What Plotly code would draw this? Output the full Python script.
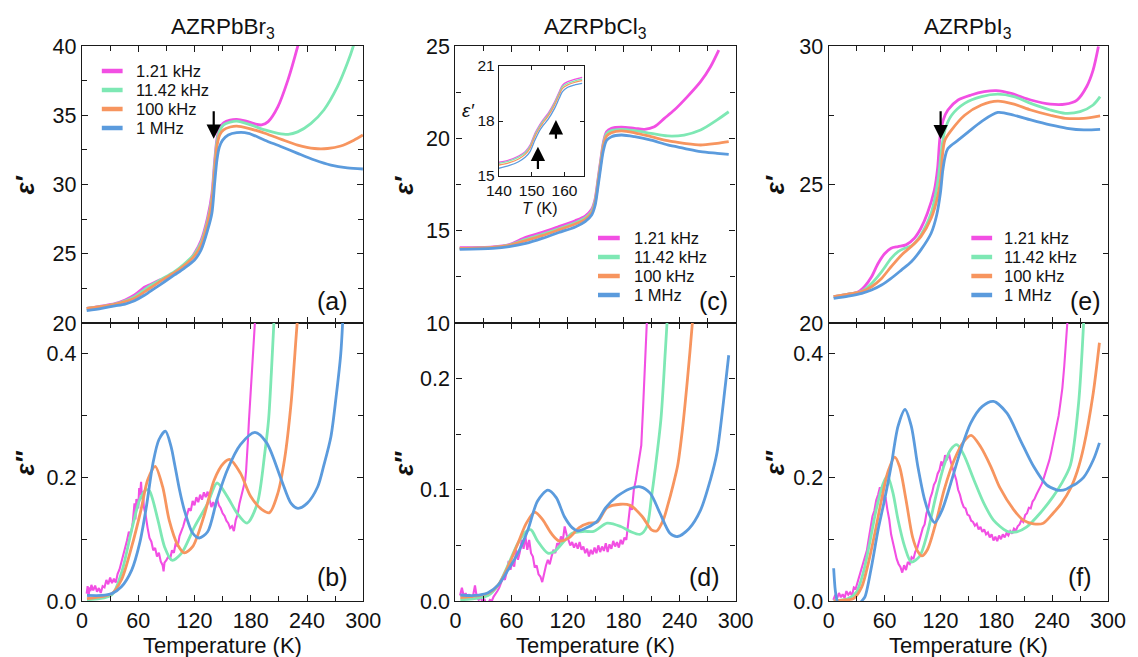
import plotly.graph_objects as go

# ---------------------------------------------------------------- data
freq_labels = ["1.21 kHz", "11.42 kHz", "100 kHz", "1 MHz"]
colors = ["#F24FE3", "#7EE8B4", "#F7955F", "#5B9BDD"]
compounds = ["AZRPbBr<sub>3</sub>", "AZRPbCl<sub>3</sub>", "AZRPbI<sub>3</sub>"]
panel_tags = ["(a)", "(b)", "(c)", "(d)", "(e)", "(f)"]
x_ticks = [0, 60, 120, 180, 240, 300]

# ---- AZRPbBr3, real part
br_re_T_121k = [5, 35, 46, 56, 67, 74, 81, 91.5, 102, 113, 120, 127, 134, 138.5, 141.5, 144, 147, 151, 158, 165, 174, 184.5, 191.5, 198.6, 209, 219.7, 230, 235]
br_re_121k = [21.06, 21.4, 21.66, 22.02, 22.6, 22.81, 23.05, 23.3, 23.78, 24.38, 25.03, 25.95, 27.63, 29.3, 31.7, 33.3, 34.1, 34.45, 34.65, 34.7, 34.6, 34.37, 34.3, 34.54, 35.62, 37.55, 39.95, 41.3]
br_re_T_1142k = [5, 35, 56, 67, 74, 84.5, 98.6, 109, 120, 127, 134, 138.5, 141.5, 144, 147, 151, 158, 165, 180, 195, 209, 220, 230, 244, 258, 272.5, 283, 289.4, 295]
br_re_1142k = [21.06, 21.37, 21.9, 22.43, 22.74, 23.15, 23.7, 24.26, 24.98, 25.8, 27.4, 29.0, 31.4, 33.1, 33.9, 34.3, 34.5, 34.58, 34.3, 33.94, 33.7, 33.62, 33.8, 34.4, 35.38, 37.06, 38.75, 40.0, 41.5]
br_re_T_100k = [5, 35, 56, 67, 77.5, 88, 98.6, 109, 120, 127, 134, 138.5, 141.5, 144, 147, 151, 158, 165, 177.5, 195, 212.7, 230, 248, 262, 276, 290, 299.6]
br_re_100k = [21.06, 21.35, 21.78, 22.26, 22.74, 23.2, 23.63, 24.14, 24.84, 25.63, 27.2, 28.8, 31.0, 32.8, 33.6, 33.95, 34.15, 34.22, 34.06, 33.7, 33.26, 32.85, 32.6, 32.6, 32.78, 33.2, 33.57]
br_re_T_1M = [5, 21, 35, 46, 56, 67, 77.5, 88, 98.6, 109, 120, 127, 134, 138.5, 141.5, 144, 146.5, 150, 156, 165, 177.5, 195, 212.7, 230, 248, 265.5, 283, 299.6]
br_re_1M = [20.89, 21.06, 21.23, 21.37, 21.61, 22.02, 22.5, 22.98, 23.47, 23.95, 24.55, 25.27, 26.7, 27.9, 30.1, 31.8, 32.7, 33.2, 33.57, 33.74, 33.7, 33.2, 32.73, 32.25, 31.77, 31.4, 31.2, 31.12]

# ---- AZRPbBr3, imaginary part
br_im_T_121k = [5, 6, 7, 8, 9, 10, 12, 14, 16, 18, 20, 22, 24, 26, 28, 30, 32, 34, 36, 38, 40, 42, 44, 46, 48, 50, 52, 54, 56, 57, 58, 60, 61, 62, 63, 64, 65, 66, 68, 70, 72, 74, 76, 78, 80, 82, 84, 86, 87, 88, 90, 92, 94, 96, 98, 100, 102, 104, 106, 108, 110, 112, 114, 116, 118, 120, 122, 124, 126, 128, 130, 132, 134, 136, 138, 140, 142, 144, 146, 148, 150, 152, 154, 156, 158, 160, 162, 164, 166, 168, 170, 172, 174, 175, 176, 177, 178, 180, 182, 184, 186]
br_im_121k = [0.012, 0.024, 0.006, 0.022, 0.016, 0.026, 0.017, 0.025, 0.015, 0.021, 0.013, 0.024, 0.022, 0.034, 0.027, 0.038, 0.029, 0.036, 0.030, 0.044, 0.051, 0.062, 0.072, 0.085, 0.098, 0.112, 0.108, 0.125, 0.158, 0.132, 0.165, 0.150, 0.183, 0.172, 0.193, 0.165, 0.178, 0.152, 0.138, 0.118, 0.102, 0.096, 0.082, 0.086, 0.072, 0.078, 0.064, 0.058, 0.048, 0.062, 0.066, 0.072, 0.068, 0.082, 0.078, 0.094, 0.088, 0.105, 0.112, 0.121, 0.132, 0.139, 0.150, 0.146, 0.162, 0.155, 0.168, 0.160, 0.172, 0.164, 0.176, 0.168, 0.177, 0.162, 0.152, 0.160, 0.151, 0.166, 0.155, 0.150, 0.142, 0.138, 0.130, 0.126, 0.118, 0.121, 0.113, 0.131, 0.140, 0.158, 0.170, 0.186, 0.195, 0.21, 0.23, 0.26, 0.29, 0.34, 0.39, 0.44, 0.49]
br_im_T_1142k = [5.3, 31.7, 42, 53, 61.6, 68.5, 72, 81, 88, 96, 106, 120, 134, 144, 155, 165.5, 176, 187, 195, 199, 202, 205]
br_im_1142k = [0.002, 0.01, 0.045, 0.115, 0.164, 0.18, 0.178, 0.131, 0.088, 0.066, 0.077, 0.12, 0.158, 0.191, 0.169, 0.142, 0.126, 0.158, 0.24, 0.293, 0.37, 0.46]
br_im_T_100k = [5.3, 31.7, 42, 53, 63, 70, 78, 86, 93, 102, 109, 118, 130, 141, 151, 158, 169, 180, 192, 200, 209, 216, 223, 228.5, 231]
br_im_100k = [0.004, 0.012, 0.034, 0.088, 0.148, 0.196, 0.218, 0.185, 0.131, 0.091, 0.078, 0.088, 0.137, 0.196, 0.223, 0.229, 0.207, 0.169, 0.148, 0.143, 0.175, 0.229, 0.32, 0.43, 0.48]
br_im_T_1M = [5.3, 21, 31.7, 42, 53, 61.6, 68.7, 75.7, 82, 89, 95, 98.6, 104, 109, 118, 125, 134, 144, 155, 169, 184.5, 197, 212.7, 223, 230.3, 240, 251.4, 258, 265.5, 271, 276, 278]
br_im_1M = [0.009, 0.009, 0.012, 0.023, 0.05, 0.094, 0.153, 0.223, 0.261, 0.275, 0.25, 0.223, 0.18, 0.148, 0.11, 0.102, 0.112, 0.164, 0.212, 0.253, 0.273, 0.256, 0.196, 0.158, 0.150, 0.158, 0.185, 0.22, 0.266, 0.33, 0.40, 0.45]

# ---- AZRPbCl3, real part
cl_re_T_121k = [4.6, 40, 57.6, 75.3, 92.9, 110.6, 128.3, 138.9, 145.9, 149.5, 153, 155.8, 158.3, 161.8, 167.1, 177.7, 191.9, 202.5, 213, 223.7, 234.3, 248.4, 262.5, 273.1, 282]
cl_re_121k = [14.08, 14.12, 14.25, 14.64, 14.91, 15.22, 15.54, 15.79, 16.16, 16.7, 17.9, 18.9, 19.75, 20.35, 20.54, 20.6, 20.54, 20.49, 20.63, 21.08, 21.53, 22.26, 23.07, 23.88, 24.78]
cl_re_T = [4.6, 40, 57.6, 75.3, 92.9, 110.6, 128.3, 138.9, 145.9, 149.5, 153, 155.8, 158.3, 161.8, 167.1, 177.7, 191.9, 209.5, 227.2, 244.9, 262.5, 280.2, 292.6]
cl_re_1142k = [14.04, 14.1, 14.22, 14.53, 14.8, 15.1, 15.43, 15.69, 16.05, 16.6, 17.8, 18.8, 19.65, 20.25, 20.42, 20.49, 20.42, 20.27, 20.13, 20.18, 20.45, 21.0, 21.44]
cl_re_100k = [14.04, 14.1, 14.2, 14.46, 14.73, 15.04, 15.36, 15.61, 15.97, 16.5, 17.7, 18.7, 19.55, 20.12, 20.3, 20.4, 20.3, 20.09, 19.87, 19.73, 19.64, 19.73, 19.82]
cl_re_1M = [13.99, 14.04, 14.13, 14.31, 14.58, 14.9, 15.2, 15.49, 15.85, 16.35, 17.5, 18.5, 19.3, 19.88, 20.09, 20.18, 20.09, 19.9, 19.64, 19.46, 19.28, 19.19, 19.13]

# ---- AZRPbCl3, real part around the transition (inset)
inset_T = [140, 143, 146, 148, 149.5, 151, 152.4, 153.4, 155, 157, 158.4, 159.4, 161, 163, 165.4]
inset_121k = [15.75, 15.87, 16.09, 16.33, 16.69, 17.33, 17.78, 18.05, 18.42, 19.05, 19.6, 19.96, 20.15, 20.27, 20.38]
inset_1142k = [15.69, 15.81, 16.03, 16.27, 16.62, 17.26, 17.71, 17.98, 18.35, 18.98, 19.52, 19.88, 20.06, 20.18, 20.28]
inset_100k = [15.6, 15.72, 15.93, 16.18, 16.52, 17.16, 17.62, 17.89, 18.26, 18.88, 19.42, 19.78, 19.97, 20.1, 20.2]
inset_1M = [15.42, 15.56, 15.78, 16.02, 16.33, 16.96, 17.47, 17.73, 18.09, 18.69, 19.24, 19.6, 19.84, 19.96, 20.05]

# ---- AZRPbCl3, imaginary part
cl_im_T_121k = [5, 7, 9, 11, 13, 15, 17, 19, 21, 23, 25, 27, 29, 31, 33, 35, 37, 39, 41, 43, 45, 47, 49, 51, 53, 55, 57, 59, 61, 63, 65, 67, 69, 71, 73, 75, 77, 79, 81, 83, 85, 87, 89, 91, 93, 95, 97, 99, 101, 103, 105, 107, 109, 111, 113, 115, 117, 119, 121, 123, 125, 127, 129, 131, 133, 135, 137, 139, 141, 143, 145, 147, 149, 151, 153, 155, 157, 159, 161, 163, 165, 167, 169, 171, 173, 175, 177, 179, 181, 183, 185, 187, 189, 191, 193, 195, 197, 199, 201, 203, 205, 207]
cl_im_121k = [0.005, 0.012, 0.004, 0.007, 0.003, 0.006, 0.002, 0.005, 0.014, 0.003, 0.001, 0.004, -0.001, 0.002, -0.003, -0.002, 0.001, 0.000, 0.004, 0.006, 0.009, 0.012, 0.016, 0.021, 0.019, 0.026, 0.036, 0.028, 0.035, 0.031, 0.046, 0.037, 0.044, 0.055, 0.047, 0.058, 0.046, 0.055, 0.043, 0.040, 0.030, 0.032, 0.024, 0.022, 0.017, 0.025, 0.032, 0.037, 0.033, 0.040, 0.046, 0.043, 0.052, 0.050, 0.058, 0.054, 0.067, 0.060, 0.055, 0.050, 0.053, 0.048, 0.052, 0.047, 0.053, 0.046, 0.049, 0.043, 0.047, 0.040, 0.046, 0.042, 0.048, 0.043, 0.050, 0.044, 0.049, 0.045, 0.052, 0.044, 0.051, 0.047, 0.054, 0.049, 0.053, 0.048, 0.055, 0.051, 0.057, 0.055, 0.070, 0.085, 0.082, 0.100, 0.108, 0.120, 0.128, 0.140, 0.175, 0.210, 0.250, 0.290]
cl_im_T_1142k = [5.3, 35, 46, 56.5, 67, 76, 81, 88, 99, 106, 116.6, 125, 138, 148, 162.5, 177, 187, 198, 205, 210, 213.8, 220, 224.7, 228]
cl_im_1142k = [0.001, 0.005, 0.0145, 0.0325, 0.052, 0.0626, 0.064, 0.054, 0.043, 0.0445, 0.054, 0.061, 0.0626, 0.0626, 0.070, 0.067, 0.0626, 0.060, 0.067, 0.094, 0.118, 0.163, 0.224, 0.27]
cl_im_T_100k = [5.3, 35, 46, 56.5, 67, 76, 85, 93.6, 102.5, 111, 122, 132.5, 143, 152, 162.5, 176.7, 187, 200, 210, 215.5, 222.6, 227, 233, 238, 243, 248.5, 253.7, 256]
cl_im_100k = [0.003, 0.007, 0.0145, 0.031, 0.052, 0.07, 0.08, 0.073, 0.061, 0.054, 0.057, 0.066, 0.070, 0.071, 0.084, 0.087, 0.086, 0.076, 0.064, 0.063, 0.073, 0.085, 0.104, 0.122, 0.154, 0.2, 0.25, 0.28]
cl_im_T_1M = [5.3, 21, 35, 46, 56.5, 67, 77.7, 88, 99, 108, 116.6, 125, 131, 141, 152, 161, 173, 187, 198, 208.5, 219, 229.7, 237.8, 250, 262.6, 273, 280, 289, 292.6]
cl_im_1M = [0.0054, 0.005, 0.0075, 0.0145, 0.028, 0.043, 0.064, 0.09, 0.0997, 0.093, 0.076, 0.066, 0.063, 0.066, 0.072, 0.084, 0.094, 0.101, 0.1027, 0.097, 0.079, 0.061, 0.058, 0.065, 0.082, 0.109, 0.133, 0.194, 0.221]

# ---- AZRPbI3, real part
i_re_T_121k = [5.3, 21, 31.9, 39, 46, 53, 60, 67, 74.5, 83, 92, 99, 106, 113.5, 117, 119.5, 123, 128, 139, 153, 167, 180, 196, 217, 238, 254, 266.7, 277, 284, 289.7]
i_re_121k = [20.95, 21.04, 21.13, 21.34, 21.67, 22.15, 22.5, 22.7, 22.76, 22.82, 23.06, 23.42, 23.96, 24.8, 25.6, 26.7, 27.33, 27.69, 28.05, 28.23, 28.35, 28.39, 28.29, 28.05, 27.9, 27.9, 28.05, 28.53, 29.13, 29.98]
i_re_T_1142k = [5.3, 21, 35.5, 46, 56.7, 67, 74.5, 81.6, 88.7, 99, 110, 115, 118, 121, 124.8, 132, 146, 164, 181.6, 199, 217, 238, 254, 270, 284, 291.5]
i_re_1142k = [20.95, 21.04, 21.15, 21.43, 21.85, 22.33, 22.58, 22.7, 22.78, 23.18, 23.96, 24.68, 25.3, 26.2, 26.97, 27.5, 27.93, 28.17, 28.26, 28.17, 27.93, 27.69, 27.57, 27.63, 27.87, 28.17]
i_re_T_100k = [5.3, 21, 35.5, 46, 56.7, 67, 78, 88.7, 99, 110, 117, 120.6, 122, 124.8, 132, 146, 164, 181.6, 199, 217, 238, 254, 274, 291.5]
i_re_100k = [20.95, 21.04, 21.13, 21.31, 21.61, 22.03, 22.45, 22.76, 23.12, 23.78, 24.56, 25.3, 26.0, 26.6, 26.97, 27.5, 27.87, 28.01, 27.9, 27.69, 27.5, 27.39, 27.39, 27.48]
i_re_T_1M = [5.3, 21, 35.5, 46, 56.7, 67, 78, 88.7, 99, 110, 116, 120, 122.5, 125, 128, 139, 150, 164, 181.6, 199, 217, 238, 256, 274, 291.5]
i_re_1M = [20.89, 20.97, 21.07, 21.19, 21.37, 21.61, 21.91, 22.21, 22.64, 23.24, 23.9, 24.7, 25.5, 26.0, 26.3, 26.6, 26.9, 27.27, 27.6, 27.5, 27.33, 27.15, 27.03, 26.97, 26.99]

# ---- AZRPbI3, imaginary part
i_im_T_121k = [5, 7, 9, 11, 13, 15, 17, 19, 21, 23, 25, 27, 29, 31, 33, 35, 37, 39, 41, 43, 45, 47, 49, 51, 53, 55, 57, 58, 59, 61, 63, 65, 67, 69, 71, 73, 75, 77, 79, 81, 83, 85, 87, 89, 91, 93, 95, 97, 99, 101, 103, 105, 107, 109, 111, 113, 115, 117, 119, 121, 123, 125, 127, 129, 131, 133, 135, 137, 139, 141, 143, 145, 147, 149, 151, 153, 155, 157, 159, 161, 163, 165, 167, 169, 171, 173, 175, 177, 179, 181, 183, 185, 187, 189, 191, 193, 195, 197, 199, 201, 203, 205, 207, 209, 211, 213, 215, 217, 219, 221, 223, 225, 227, 229, 231, 233, 235, 237, 239, 241, 243, 245, 247, 249, 251, 253, 255, 257]
i_im_121k = [0.002, 0.010, 0.004, 0.013, 0.006, 0.011, 0.005, 0.016, 0.010, 0.014, 0.009, 0.022, 0.020, 0.031, 0.038, 0.052, 0.060, 0.074, 0.082, 0.101, 0.118, 0.137, 0.146, 0.163, 0.172, 0.184, 0.176, 0.187, 0.162, 0.168, 0.148, 0.132, 0.108, 0.094, 0.078, 0.068, 0.060, 0.055, 0.046, 0.058, 0.050, 0.063, 0.060, 0.071, 0.068, 0.080, 0.085, 0.096, 0.104, 0.118, 0.124, 0.142, 0.150, 0.166, 0.175, 0.188, 0.194, 0.206, 0.212, 0.226, 0.218, 0.236, 0.228, 0.240, 0.226, 0.216, 0.205, 0.196, 0.180, 0.172, 0.160, 0.152, 0.150, 0.140, 0.138, 0.130, 0.128, 0.122, 0.125, 0.116, 0.120, 0.112, 0.116, 0.108, 0.111, 0.103, 0.108, 0.098, 0.104, 0.097, 0.106, 0.100, 0.108, 0.103, 0.110, 0.106, 0.113, 0.109, 0.117, 0.114, 0.121, 0.124, 0.131, 0.128, 0.139, 0.142, 0.151, 0.150, 0.161, 0.165, 0.172, 0.178, 0.186, 0.190, 0.199, 0.208, 0.216, 0.228, 0.241, 0.256, 0.270, 0.288, 0.300, 0.322, 0.345, 0.380, 0.420, 0.465]
i_im_T_1142k = [5.3, 21, 30, 37, 44, 51, 58.5, 63, 69, 74.5, 81.6, 88.7, 97.5, 106, 115, 124, 131, 137.6, 145, 156, 166.7, 177, 191.5, 202, 212.8, 227, 241, 250, 259.6, 268.4, 273.8]
i_im_1142k = [0.0, 0.004, 0.015, 0.045, 0.094, 0.148, 0.19, 0.203, 0.175, 0.131, 0.088, 0.063, 0.072, 0.11, 0.169, 0.22, 0.245, 0.253, 0.237, 0.196, 0.158, 0.131, 0.113, 0.112, 0.12, 0.142, 0.169, 0.19, 0.22, 0.32, 0.45]
i_im_T_100k = [5.3, 17.7, 26.6, 35.5, 42.5, 49.6, 56.7, 63.8, 71, 76, 83, 90, 95.7, 100, 106, 115, 124, 135, 145, 153, 163, 174, 184, 198.6, 209, 220, 230.5, 241, 250, 260, 267, 274, 284, 290.8]
i_im_100k = [0.0, 0.0016, 0.004, 0.023, 0.061, 0.11, 0.164, 0.21, 0.233, 0.218, 0.164, 0.104, 0.08, 0.073, 0.083, 0.126, 0.18, 0.229, 0.258, 0.268, 0.25, 0.218, 0.183, 0.148, 0.131, 0.125, 0.126, 0.142, 0.158, 0.183, 0.21, 0.25, 0.335, 0.418]
i_im_T_1M = [5.3, 7, 9, 12, 20, 30, 35.5, 39, 46, 53, 60, 67, 74.5, 82, 88.7, 95.7, 103, 110, 114, 122, 131, 142, 152.5, 165, 177, 191.5, 205.7, 220, 234, 244.7, 249, 255, 259.6, 266, 273.8, 284.4, 290.8]
i_im_1M = [0.053, 0.018, 0.0, -0.01, -0.02, -0.01, 0.0, 0.007, 0.056, 0.115, 0.164, 0.218, 0.283, 0.31, 0.283, 0.218, 0.164, 0.134, 0.127, 0.148, 0.19, 0.245, 0.288, 0.315, 0.323, 0.304, 0.261, 0.218, 0.188, 0.18, 0.179, 0.181, 0.185, 0.19, 0.2, 0.229, 0.256]

# ---------------------------------------------------------------- layout helpers
W, H = 1138, 657
ML, MR, MT, MB = 82, 20, 46, 56
FONT = "Liberation Sans, Arial, Helvetica, sans-serif"
INK = "#1a1a1a"


def fx(p):
    return (p - ML) / (W - ML - MR)


def fy(p):
    return (H - MB - p) / (H - MT - MB)


col_dom = [[fx(82), fx(366)], [fx(459), fx(742)], [fx(836), fx(1118)]]
split = fy(323)
top_dom, bot_dom = [split, 1.0], [0.0, split]

fig = go.Figure()

panels = [
    # (axis index, T lists, value lists, first series is the noisy low-frequency one)
    (1, [br_re_T_121k, br_re_T_1142k, br_re_T_100k, br_re_T_1M], [br_re_121k, br_re_1142k, br_re_100k, br_re_1M], False),
    (2, [br_im_T_121k, br_im_T_1142k, br_im_T_100k, br_im_T_1M], [br_im_121k, br_im_1142k, br_im_100k, br_im_1M], True),
    (3, [cl_re_T_121k, cl_re_T, cl_re_T, cl_re_T], [cl_re_121k, cl_re_1142k, cl_re_100k, cl_re_1M], False),
    (4, [cl_im_T_121k, cl_im_T_1142k, cl_im_T_100k, cl_im_T_1M], [cl_im_121k, cl_im_1142k, cl_im_100k, cl_im_1M], True),
    (5, [i_re_T_121k, i_re_T_1142k, i_re_T_100k, i_re_T_1M], [i_re_121k, i_re_1142k, i_re_100k, i_re_1M], False),
    (6, [i_im_T_121k, i_im_T_1142k, i_im_T_100k, i_im_T_1M], [i_im_121k, i_im_1142k, i_im_100k, i_im_1M], True),
]

for idx, Ts, Vs, noisy in panels:
    for k, (T, V) in enumerate(zip(Ts, Vs)):
        rough = noisy and k == 0
        fig.add_trace(go.Scatter(
            x=T, y=V, mode="lines", name=freq_labels[k], showlegend=False,
            line=dict(color=colors[k], width=2.1 if rough else 2.8,
                      shape="linear" if rough else "spline", smoothing=0.8),
            xaxis=f"x{idx}", yaxis=f"y{idx}",
        ))

for k, V in enumerate([inset_121k, inset_1142k, inset_100k, inset_1M]):
    fig.add_trace(go.Scatter(
        x=inset_T, y=V, mode="lines", showlegend=False, name=freq_labels[k],
        line=dict(color=colors[k], width=1.3, shape="spline", smoothing=0.8),
        xaxis="x7", yaxis="y7",
    ))


def axis(domain, rng, dtick, minor, labels=True, fmt=None, anchor=None):
    a = dict(domain=domain, range=rng, dtick=dtick, tick0=0,
             showline=True, linecolor=INK, linewidth=1.4, mirror="ticks",
             ticks="inside", ticklen=6, tickwidth=1.4, tickcolor=INK,
             minor=dict(dtick=minor, ticks="inside", ticklen=5, tickwidth=1.4, tickcolor=INK, showgrid=False),
             showgrid=False, zeroline=False, showticklabels=labels,
             tickfont=dict(family=FONT, size=21.5, color="#111"))
    if fmt:
        a["tickformat"] = fmt
    if anchor:
        a["anchor"] = anchor
    return a


layout = dict(
    width=W, height=H, margin=dict(l=ML, r=MR, t=MT, b=MB),
    paper_bgcolor="white", plot_bgcolor="white", showlegend=False,
    font=dict(family=FONT, color="#111"),
)

yspec = {
    1: ([20, 40], 5, 2.5, None), 2: ([0, 0.45], 0.2, 0.1, ".1f"),
    3: ([10, 25], 5, 2.5, None), 4: ([0, 0.25], 0.1, 0.05, ".1f"),
    5: ([20, 30], 5, 2.5, None), 6: ([0, 0.45], 0.2, 0.1, ".1f"),
}
for c in range(3):
    top, bot = 2 * c + 1, 2 * c + 2
    layout[f"xaxis{top}"] = axis(col_dom[c], [0, 300], 60, 30, labels=False, anchor=f"y{top}")
    layout[f"xaxis{bot}"] = axis(col_dom[c], [0, 300], 60, 30, anchor=f"y{bot}")
    layout[f"xaxis{bot}"]["tickvals"] = x_ticks
    for i, dom in ((top, top_dom), (bot, bot_dom)):
        rng, dt, mn, fmt = yspec[i]
        layout[f"yaxis{i}"] = axis(dom, rng, dt, mn, fmt=fmt, anchor=f"x{i}")

# inset axes
inset_x = axis([fx(503), fx(589)], [140, 166], 10, 5, anchor="y7")
inset_x.update(ticklen=4, linewidth=1.2, tickfont=dict(family=FONT, size=15.5, color="#111"))
inset_x["minor"] = dict(ticks="")
inset_y = axis([fy(176), fy(66)], [15, 21], 3, 1.5, anchor="x7")
inset_y.update(ticklen=4, linewidth=1.2, tickfont=dict(family=FONT, size=15.5, color="#111"))
inset_y["minor"] = dict(ticks="")
layout["xaxis7"] = inset_x
layout["yaxis7"] = inset_y

fig.update_layout(**layout)

# ---------------------------------------------------------------- annotations
ann = []
col_px = [(82, 366), (459, 742), (836, 1118)]
title_x_off = [58, 52, 54]
for c in range(3):
    x0, x1 = col_px[c]
    ann.append(dict(xref="paper", yref="paper", x=fx((x0 + x1) / 2), y=fy(28), text=compounds[c],
                    showarrow=False, xanchor="center", yanchor="middle",
                    font=dict(family=FONT, size=22.5, color="#111")))
    for lab, ycen in (("<i>ε′</i>", 185), ("<i>ε″</i>", 463)):
        ann.append(dict(xref="paper", yref="paper", x=fx(x0 - title_x_off[c]), y=fy(ycen), text=f"<b>{lab}</b>",
                        showarrow=False, textangle=-90, xanchor="center", yanchor="middle",
                        font=dict(family=FONT, size=25, color="#111")))

tag_pos = [(353, 301), (353, 577), (736, 301), (728, 577), (1113, 301), (1104, 577)]
for tag, (xr, yc) in zip(panel_tags, tag_pos):
    ann.append(dict(xref="paper", yref="paper", x=fx(xr), y=fy(yc), text=tag, showarrow=False,
                    xanchor="right", yanchor="middle", font=dict(family=FONT, size=25, color="#111")))

# transition markers
arrow_style = dict(showarrow=True, arrowhead=2, arrowsize=1.3, arrowwidth=2.2, arrowcolor="#000", text="")
ann.append(dict(xref="x1", yref="y1", x=140.5, y=33.3, axref="x1", ayref="y1", ax=140.5, ay=35.4, **arrow_style))
ann.append(dict(xref="x5", yref="y5", x=120.2, y=26.63, axref="x5", ayref="y5", ax=120.2, ay=27.7, **arrow_style))
ann.append(dict(xref="x7", yref="y7", x=151.9, y=16.6, axref="x7", ayref="y7", ax=151.9, ay=15.3, **arrow_style))
ann.append(dict(xref="x7", yref="y7", x=157.4, y=18.05, axref="x7", ayref="y7", ax=157.4, ay=16.95, **arrow_style))

# inset labels
ann.append(dict(xref="paper", yref="paper", x=fx(544), y=fy(208), text="<i>T</i> (K)", showarrow=False,
                xanchor="center", yanchor="middle", font=dict(family=FONT, size=16, color="#111")))
ann.append(dict(xref="paper", yref="paper", x=fx(472), y=fy(110), text="<i>ε′</i>", showarrow=False,
                xanchor="center", yanchor="middle", font=dict(family=FONT, size=19, color="#111")))

# frequency keys
keys = [
    ((102, 123, 135), [71.0, 90.0, 109.0, 128.0]),
    ((603, 625, 637), [238.0, 257.0, 276.0, 295.0]),
    ((980, 1001, 1011), [238.0, 257.0, 276.0, 295.0]),
]
shapes = []
for (xl0, xl1, xt), rows in keys:
    for lab, col, yr in zip(freq_labels, colors, rows):
        shapes.append(dict(type="line", xref="paper", yref="paper", x0=fx(xl0), x1=fx(xl1),
                           y0=fy(yr), y1=fy(yr), line=dict(color=col, width=4.5)))
        ann.append(dict(xref="paper", yref="paper", x=fx(xt), y=fy(yr), text=lab, showarrow=False,
                        xanchor="left", yanchor="middle", font=dict(family=FONT, size=16.5, color="#111")))

# x-axis titles
for c in range(3):
    x0, x1 = col_px[c]
    ann.append(dict(xref="paper", yref="paper", x=fx((x0 + x1) / 2), y=fy(645), text="Temperature (K)",
                    showarrow=False, xanchor="center", yanchor="middle",
                    font=dict(family=FONT, size=22, color="#111")))

fig.update_layout(annotations=ann, shapes=shapes)
fig.write_html("out.html")
